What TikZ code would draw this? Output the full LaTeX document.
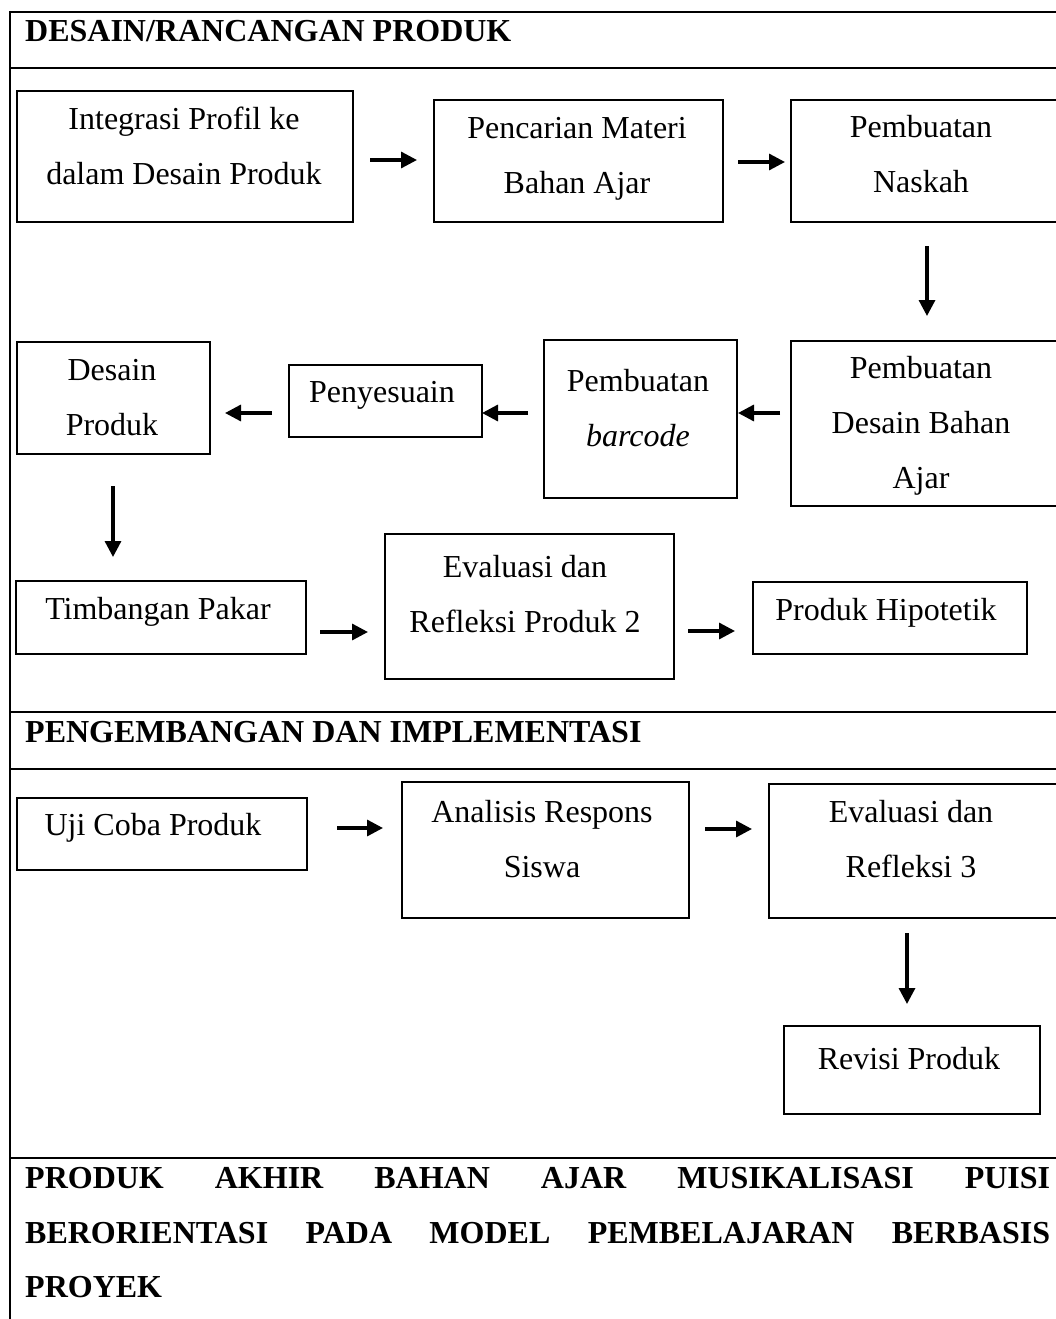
\documentclass[tikz,border=0pt]{standalone}
\usepackage{fontspec}
\setmainfont{Liberation Serif}
\usetikzlibrary{arrows.meta}
\tikzset{
  frame/.style={line width=2.2pt},
  box/.style={draw, line width=2.4pt, inner sep=0pt, anchor=north west},
  txt/.style={anchor=north, inner sep=0pt, align=center, font=\fontsize{32}{55}\selectfont},
  head/.style={anchor=base west, inner sep=0pt, font=\fontsize{32}{55}\selectfont\bfseries},
  arr/.style={line width=3.3pt, -{Triangle[length=16pt,width=16pt]}},
}
\newcommand{\fst}{\rule{0pt}{26pt}}
\begin{document}
\begin{tikzpicture}[x=1pt,y=-1pt]
\useasboundingbox (0,0) rectangle (1056,1319);
\clip (0,0) rectangle (1056,1319);
\fill[white] (0,0) rectangle (1056,1319);

% table frame
\draw[frame] (10,12) -- (1070,12);
\draw[frame] (10,68) -- (1070,68);
\draw[frame] (10,712) -- (1070,712);
\draw[frame] (10,769) -- (1070,769);
\draw[frame] (10,1158) -- (1070,1158);
\draw[frame] (10,11) -- (10,1330);

% headers
\node[head] (h1) at (25,42) {DESAIN/RANCANGAN PRODUK};
\node[head] (h2) at (25,742) {PENGEMBANGAN DAN IMPLEMENTASI};
\node[head] (f1) at (25,1188) {\hbox to 1025pt{PRODUK\hfill AKHIR\hfill BAHAN\hfill AJAR\hfill MUSIKALISASI\hfill PUISI}};
\node[head] (f2) at (25,1243) {\hbox to 1025pt{BERORIENTASI\hfill PADA\hfill MODEL\hfill PEMBELAJARAN\hfill BERBASIS}};
\node[head] (f3) at (25,1297) {PROYEK};

% boxes
\node[box, minimum width=336pt, minimum height=131pt] (bA) at (16,90) {};
\node[box, minimum width=289pt, minimum height=122pt] (bB) at (433,99) {};
\node[box, minimum width=280pt, minimum height=122pt] (bC) at (790,99) {};
\node[box, minimum width=280pt, minimum height=165pt] (bD) at (790,340) {};
\node[box, minimum width=193pt, minimum height=158pt] (bE) at (543,339) {};
\node[box, minimum width=193pt, minimum height=72pt] (bF) at (288,364) {};
\node[box, minimum width=193pt, minimum height=112pt] (bG) at (16,341) {};
\node[box, minimum width=290pt, minimum height=73pt] (bH) at (15,580) {};
\node[box, minimum width=289pt, minimum height=145pt] (bI) at (384,533) {};
\node[box, minimum width=274pt, minimum height=72pt] (bJ) at (752,581) {};
\node[box, minimum width=290pt, minimum height=72pt] (bK) at (16,797) {};
\node[box, minimum width=287pt, minimum height=136pt] (bL) at (401,781) {};
\node[box, minimum width=300pt, minimum height=134pt] (bM) at (768,783) {};
\node[box, minimum width=256pt, minimum height=88pt] (bN) at (783,1025) {};

% texts
\node[txt] (tA) at (184,103) {\fst Integrasi Profil ke\\dalam Desain Produk};
\node[txt] (tB) at (577,112) {\fst Pencarian Materi\\Bahan Ajar};
\node[txt] (tC) at (921,111) {\fst Pembuatan\\Naskah};
\node[txt] (tD) at (921,352) {\fst Pembuatan\\Desain Bahan\\Ajar};
\node[txt] (tE) at (638,365) {\fst Pembuatan\\\textit{barcode}};
\node[txt] (tF) at (382,376) {\fst Penyesuain};
\node[txt] (tG) at (112,354) {\fst Desain\\Produk};
\node[txt] (tH) at (158,593) {\fst Timbangan Pakar};
\node[txt] (tI) at (525,551) {\fst Evaluasi dan\\Refleksi Produk 2};
\node[txt] (tJ) at (886,594) {\fst Produk Hipotetik};
\node[txt] (tK) at (153,809) {\fst Uji Coba Produk};
\node[txt] (tL) at (542,796) {\fst Analisis Respons\\Siswa};
\node[txt] (tM) at (911,796) {\fst Evaluasi dan\\Refleksi 3};
\node[txt] (tN) at (909,1043) {\fst Revisi Produk};

% arrow end points
\coordinate (a1s) at (370,160); \coordinate (a1e) at (417,160);
\coordinate (a2s) at (738,162); \coordinate (a2e) at (785,162);
\coordinate (a3s) at (927,246); \coordinate (a3e) at (927,316);
\coordinate (a4s) at (780,413); \coordinate (a4e) at (738,413);
\coordinate (a5s) at (528,413); \coordinate (a5e) at (482,413);
\coordinate (a6s) at (272,413); \coordinate (a6e) at (225,413);
\coordinate (a7s) at (113,486); \coordinate (a7e) at (113,557);
\coordinate (a8s) at (320,632); \coordinate (a8e) at (368,632);
\coordinate (a9s) at (688,631); \coordinate (a9e) at (735,631);
\coordinate (a10s) at (337,828); \coordinate (a10e) at (383,828);
\coordinate (a11s) at (705,829); \coordinate (a11e) at (752,829);
\coordinate (a12s) at (907,933); \coordinate (a12e) at (907,1004);

\draw[arr] (a1s) -- (a1e);
\draw[arr] (a2s) -- (a2e);
\draw[arr] (a3s) -- (a3e);
\draw[arr] (a4s) -- (a4e);
\draw[arr] (a5s) -- (a5e);
\draw[arr] (a6s) -- (a6e);
\draw[arr] (a7s) -- (a7e);
\draw[arr] (a8s) -- (a8e);
\draw[arr] (a9s) -- (a9e);
\draw[arr] (a10s) -- (a10e);
\draw[arr] (a11s) -- (a11e);
\draw[arr] (a12s) -- (a12e);
\end{tikzpicture}
\end{document}
